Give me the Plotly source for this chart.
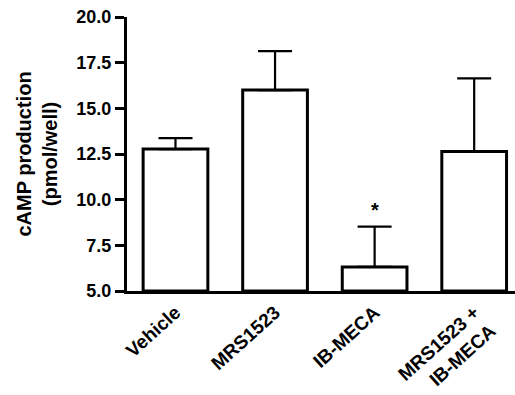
import plotly.graph_objects as go

categories = ["Vehicle", "MRS1523", "IB-MECA", "MRS1523 +<br>IB-MECA"]
means = [12.77, 16.0, 6.32, 12.64]
sem = [0.6, 2.13, 2.2, 4.0]
y_ticks = [5.0, 7.5, 10.0, 12.5, 15.0, 17.5, 20.0]
y_tick_text = ["5.0", "7.5", "10.0", "12.5", "15.0", "17.5", "20.0"]
significance = ["", "", "*", ""]

FONT = "Liberation Sans, Arial, sans-serif"

fig = go.Figure()
fig.add_trace(go.Bar(
    x=categories,
    y=[m - 5.0 for m in means],
    base=5.0,
    width=0.65,
    marker=dict(color="white", line=dict(color="black", width=3)),
    error_y=dict(type="data", symmetric=False, array=sem, arrayminus=[0] * len(sem),
                 color="black", thickness=2.2, width=17),
    showlegend=False,
))

for c, m, s, sig in zip(categories, means, sem, significance):
    if sig:
        fig.add_annotation(x=c, y=m + s, text=sig, showarrow=False, yanchor="bottom",
                           yshift=4, font=dict(family=FONT, size=20, color="black"))

fig.update_layout(
    width=515, height=395,
    margin=dict(l=127, r=0, t=17, b=104),
    plot_bgcolor="white", paper_bgcolor="white",
    font=dict(family=FONT, color="black", weight="bold"),
    bargap=0.35,
)
fig.update_xaxes(
    range=[-0.487, 3.41], automargin=False,
    showline=True, linecolor="black", linewidth=3,
    ticks="", tickangle=-42,
    tickfont=dict(family=FONT, size=19, color="black", weight="bold"),
    showgrid=False, zeroline=False,
)
fig.update_yaxes(
    range=[5, 20], automargin=False,
    tickvals=y_ticks, ticktext=y_tick_text,
    showline=True, linecolor="black", linewidth=3,
    ticks="outside", ticklen=9, tickwidth=3, tickcolor="black",
    tickfont=dict(family=FONT, size=18, color="black", weight="bold"),
    showgrid=False, zeroline=False,
    title=dict(text="cAMP production<br>(pmol/well)", standoff=14,
               font=dict(family=FONT, size=20, color="black", weight="bold")),
)

fig.write_html("out.html", config={"displayModeBar": False},
               post_script="document.body.style.margin='0';")
